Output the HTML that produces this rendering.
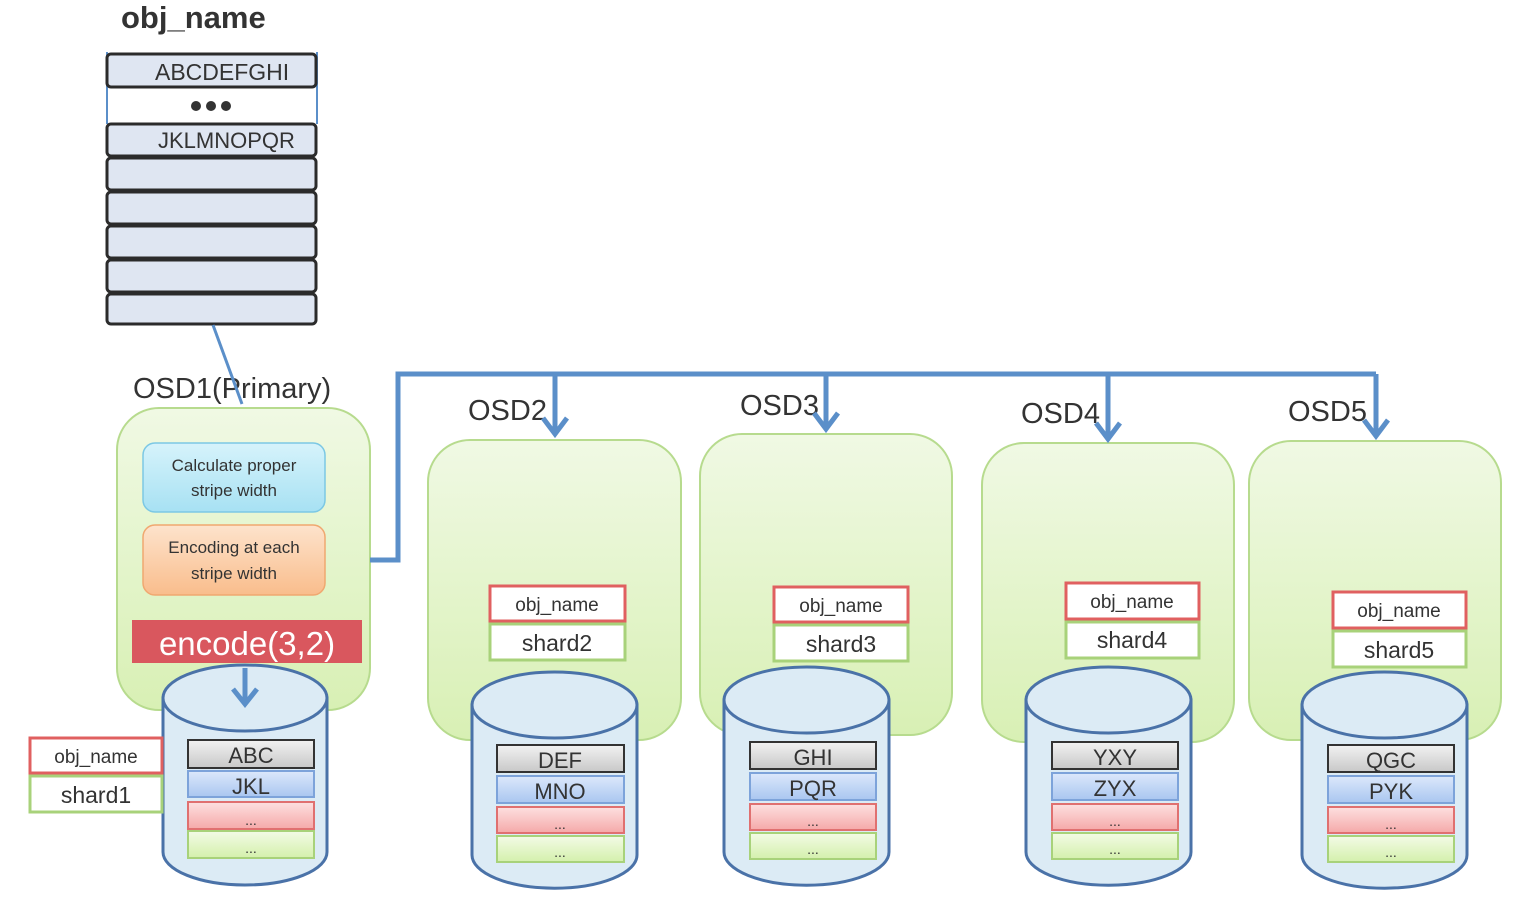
<!DOCTYPE html>
<html><head><meta charset="utf-8"><style>body{margin:0;background:#fff}svg{display:block}</style></head><body>
<svg width="1536" height="910" viewBox="0 0 1536 910" xmlns="http://www.w3.org/2000/svg" font-family="Liberation Sans, sans-serif">
<defs>
<linearGradient id="g" x1="0" y1="0" x2="0" y2="1"><stop offset="0" stop-color="#f0f9e4"/><stop offset="1" stop-color="#d8f0b4"/></linearGradient>
<linearGradient id="bl" x1="0" y1="0" x2="0" y2="1"><stop offset="0" stop-color="#d6f3fb"/><stop offset="1" stop-color="#a7e1f3"/></linearGradient>
<linearGradient id="or" x1="0" y1="0" x2="0" y2="1"><stop offset="0" stop-color="#fde3cc"/><stop offset="1" stop-color="#f9bd8c"/></linearGradient>
<linearGradient id="gr" x1="0" y1="0" x2="0" y2="1"><stop offset="0" stop-color="#f2f2f2"/><stop offset="1" stop-color="#c8c8c8"/></linearGradient>
<linearGradient id="bu" x1="0" y1="0" x2="0" y2="1"><stop offset="0" stop-color="#dce8fb"/><stop offset="1" stop-color="#a9c6f0"/></linearGradient>
<linearGradient id="pk" x1="0" y1="0" x2="0" y2="1"><stop offset="0" stop-color="#fde0e0"/><stop offset="1" stop-color="#f5a9a9"/></linearGradient>
<linearGradient id="gn" x1="0" y1="0" x2="0" y2="1"><stop offset="0" stop-color="#f3fbe6"/><stop offset="1" stop-color="#d4f0ac"/></linearGradient>
</defs>

<text x="121" y="28" font-size="31" font-weight="bold" fill="#333">obj_name</text>
<g stroke="#2b2b2b" stroke-width="3" fill="#dfe6f2">
<line x1="107" y1="52" x2="107" y2="124" stroke="#5b8fc9" stroke-width="2"/>
<line x1="317" y1="52" x2="317" y2="124" stroke="#5b8fc9" stroke-width="2"/>
<rect x="107" y="54" width="209" height="33" rx="4"/>
<rect x="107" y="124" width="209" height="32" rx="4"/>
<rect x="107" y="158" width="209" height="32" rx="4"/>
<rect x="107" y="192" width="209" height="32" rx="4"/>
<rect x="107" y="226" width="209" height="32" rx="4"/>
<rect x="107" y="260" width="209" height="32" rx="4"/>
<rect x="107" y="294" width="209" height="30" rx="4"/>
</g>
<text x="155" y="80" font-size="23" fill="#333">ABCDEFGHI</text>
<circle cx="196" cy="106" r="5" fill="#333"/><circle cx="211" cy="106" r="5" fill="#333"/><circle cx="226" cy="106" r="5" fill="#333"/>
<text x="158" y="148" font-size="22" fill="#333">JKLMNOPQR</text>

<!-- OSD boxes -->
<g fill="url(#g)" stroke="#b7db8e" stroke-width="2">
<rect x="117" y="408" width="253" height="302" rx="42"/>
<rect x="428" y="440" width="253" height="300" rx="42"/>
<rect x="700" y="434" width="252" height="301" rx="42"/>
<rect x="982" y="443" width="252" height="299" rx="42"/>
<rect x="1249" y="441" width="252" height="299" rx="42"/>
</g>
<g font-size="29" fill="#333">
<text x="133" y="398">OSD1(Primary)</text>
<text x="468" y="420">OSD2</text>
<text x="740" y="415">OSD3</text>
<text x="1021" y="423">OSD4</text>
<text x="1288" y="421">OSD5</text>
</g>

<rect x="143" y="443" width="182" height="69" rx="12" fill="url(#bl)" stroke="#7cc8e4" stroke-width="1.5"/>
<rect x="143" y="525" width="182" height="70" rx="12" fill="url(#or)" stroke="#f0a870" stroke-width="1.5"/>
<g font-size="17" fill="#333" text-anchor="middle">
<text x="234" y="471">Calculate proper</text><text x="234" y="496">stripe width</text>
<text x="234" y="553">Encoding at each</text><text x="234" y="579">stripe width</text>
</g>
<rect x="132" y="620" width="230" height="43" fill="#d9575e"/>
<text x="247" y="655" font-size="33" fill="#fff" text-anchor="middle">encode(3,2)</text>

<!-- arrow from stack -->
<line x1="213" y1="325" x2="242" y2="404" stroke="#5b8fc9" stroke-width="3"/>

<!-- connector -->
<g stroke="#5b8fc9" stroke-width="5" fill="none">
<polyline points="370,560 398,560 398,374 1376,374"/>
<line x1="555" y1="374" x2="555" y2="434"/>
<line x1="826" y1="374" x2="826" y2="429"/>
<line x1="1108" y1="374" x2="1108" y2="439"/>
<line x1="1376" y1="374" x2="1376" y2="436"/>
<polyline points="543,418 555,434 567,418"/>
<polyline points="814,413 826,429 838,413"/>
<polyline points="1096,423 1108,439 1120,423"/>
<polyline points="1364,420 1376,436 1388,420"/>
</g>

<!-- cylinders -->
<g fill="#dcebf5" stroke="#4a72a8" stroke-width="3">
<path d="M163,698 L163,852 A82,33 0 0 0 327,852 L327,698 Z"/><ellipse cx="245" cy="698" rx="82" ry="33"/>
<path d="M472,705 L472,855 A82,33 0 0 0 637,855 L637,705 Z"/><ellipse cx="554.5" cy="705" rx="82.5" ry="33"/>
<path d="M724,700 L724,852 A82,33 0 0 0 889,852 L889,700 Z"/><ellipse cx="806.5" cy="700" rx="82.5" ry="33"/>
<path d="M1026,700 L1026,852 A82,33 0 0 0 1191,852 L1191,700 Z"/><ellipse cx="1108.5" cy="700" rx="82.5" ry="33"/>
<path d="M1302,705 L1302,855 A82,33 0 0 0 1467,855 L1467,705 Z"/><ellipse cx="1384.5" cy="705" rx="82.5" ry="33"/>
</g>
<g stroke="#5b8fc9" stroke-width="5" fill="none">
<line x1="245" y1="668" x2="245" y2="703"/><polyline points="233,689 245,704 257,689"/>
</g>

<!-- rows -->
<g stroke-width="2" font-size="22" fill="#333" text-anchor="middle">
<g transform="translate(188,740)">
<rect width="126" height="28" fill="url(#gr)" stroke="#333"/><rect y="31" width="126" height="26" fill="url(#bu)" stroke="#7da3da"/><rect y="62" width="126" height="27" fill="url(#pk)" stroke="#e07070"/><rect y="91" width="126" height="27" fill="url(#gn)" stroke="#a8d27a"/>
<text x="63" y="23" stroke="none" fill="#333">ABC</text><text x="63" y="54" stroke="none" fill="#333">JKL</text><text x="63" y="85" stroke="none" fill="#333" font-size="14">...</text><text x="63" y="113" stroke="none" fill="#333" font-size="14">...</text>
</g>
<g transform="translate(497,745)">
<rect width="127" height="27" fill="url(#gr)" stroke="#333"/><rect y="31" width="127" height="27" fill="url(#bu)" stroke="#7da3da"/><rect y="62" width="127" height="26" fill="url(#pk)" stroke="#e07070"/><rect y="91" width="127" height="26" fill="url(#gn)" stroke="#a8d27a"/>
<text x="63" y="23" stroke="none" fill="#333">DEF</text><text x="63" y="54" stroke="none" fill="#333">MNO</text><text x="63" y="84" stroke="none" fill="#333" font-size="14">...</text><text x="63" y="112" stroke="none" fill="#333" font-size="14">...</text>
</g>
<g transform="translate(750,742)">
<rect width="126" height="27" fill="url(#gr)" stroke="#333"/><rect y="31" width="126" height="27" fill="url(#bu)" stroke="#7da3da"/><rect y="62" width="126" height="26" fill="url(#pk)" stroke="#e07070"/><rect y="91" width="126" height="26" fill="url(#gn)" stroke="#a8d27a"/>
<text x="63" y="23" stroke="none" fill="#333">GHI</text><text x="63" y="54" stroke="none" fill="#333">PQR</text><text x="63" y="84" stroke="none" fill="#333" font-size="14">...</text><text x="63" y="112" stroke="none" fill="#333" font-size="14">...</text>
</g>
<g transform="translate(1052,742)">
<rect width="126" height="27" fill="url(#gr)" stroke="#333"/><rect y="31" width="126" height="27" fill="url(#bu)" stroke="#7da3da"/><rect y="62" width="126" height="26" fill="url(#pk)" stroke="#e07070"/><rect y="91" width="126" height="26" fill="url(#gn)" stroke="#a8d27a"/>
<text x="63" y="23" stroke="none" fill="#333">YXY</text><text x="63" y="54" stroke="none" fill="#333">ZYX</text><text x="63" y="84" stroke="none" fill="#333" font-size="14">...</text><text x="63" y="112" stroke="none" fill="#333" font-size="14">...</text>
</g>
<g transform="translate(1328,745)">
<rect width="126" height="27" fill="url(#gr)" stroke="#333"/><rect y="31" width="126" height="27" fill="url(#bu)" stroke="#7da3da"/><rect y="62" width="126" height="26" fill="url(#pk)" stroke="#e07070"/><rect y="91" width="126" height="26" fill="url(#gn)" stroke="#a8d27a"/>
<text x="63" y="23" stroke="none" fill="#333">QGC</text><text x="63" y="54" stroke="none" fill="#333">PYK</text><text x="63" y="84" stroke="none" fill="#333" font-size="14">...</text><text x="63" y="112" stroke="none" fill="#333" font-size="14">...</text>
</g>
</g>

<!-- labels -->
<g stroke-width="3" fill="#fff">
<rect x="30" y="738" width="132" height="35" stroke="#e06060"/><rect x="30" y="776" width="132" height="36" stroke="#a8d27a"/>
<rect x="490" y="586" width="135" height="35" stroke="#e06060"/><rect x="490" y="624" width="135" height="36" stroke="#a8d27a"/>
<rect x="774" y="587" width="134" height="35" stroke="#e06060"/><rect x="774" y="625" width="134" height="36" stroke="#a8d27a"/>
<rect x="1066" y="583" width="133" height="36" stroke="#e06060"/><rect x="1066" y="622" width="133" height="36" stroke="#a8d27a"/>
<rect x="1333" y="592" width="133" height="36" stroke="#e06060"/><rect x="1333" y="631" width="133" height="36" stroke="#a8d27a"/>
</g>
<g fill="#333" text-anchor="middle">
<g font-size="19">
<text x="96" y="763">obj_name</text><text x="557" y="611">obj_name</text><text x="841" y="612">obj_name</text><text x="1132" y="608">obj_name</text><text x="1399" y="617">obj_name</text>
</g>
<g font-size="23">
<text x="96" y="803">shard1</text><text x="557" y="651">shard2</text><text x="841" y="652">shard3</text><text x="1132" y="648">shard4</text><text x="1399" y="658">shard5</text>
</g>
</g>
</svg>
</body></html>
